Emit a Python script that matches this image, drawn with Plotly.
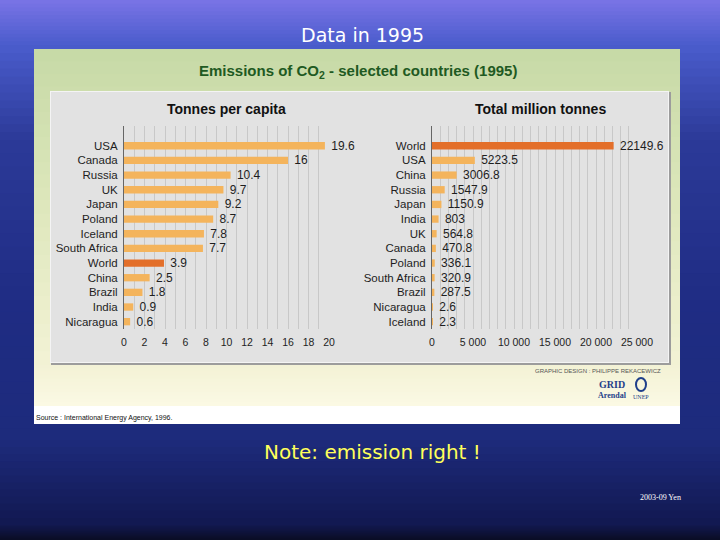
import plotly.graph_objects as go
from plotly.subplots import make_subplots

# data
per_capita_countries = ["USA", "Canada", "Russia", "UK", "Japan", "Poland", "Iceland",
                        "South Africa", "World", "China", "Brazil", "India", "Nicaragua"]
per_capita = [19.6, 16, 10.4, 9.7, 9.2, 8.7, 7.8, 7.7, 3.9, 2.5, 1.8, 0.9, 0.6]

total_countries = ["World", "USA", "China", "Russia", "Japan", "India", "UK", "Canada",
                   "Poland", "South Africa", "Brazil", "Nicaragua", "Iceland"]
total_mt = [22149.6, 5223.5, 3006.8, 1547.9, 1150.9, 803, 564.8, 470.8,
            336.1, 320.9, 287.5, 2.6, 2.3]

total_tickvals = [0, 5000, 10000, 15000, 20000, 25000]
total_ticktext = ["0", "5 000", "10 000", "15 000", "20 000", "25 000"]

W, H = 720, 540
BAR = "#f4b45c"
BAR_WORLD = "#e36f2a"
NARROW = "Liberation Sans Narrow, Arial Narrow, Liberation Sans, Arial, sans-serif"


def px(x):
    return x / W


def py(y):
    return 1 - y / H


def hex2rgb(h):
    h = h.lstrip("#")
    return [int(h[i:i + 2], 16) for i in (0, 2, 4)]


def mix(c0, c1, t):
    a, b = hex2rgb(c0), hex2rgb(c1)
    return "rgb(%d,%d,%d)" % tuple(round(a[i] + (b[i] - a[i]) * t) for i in range(3))


shapes = []


def gradient(x0, x1, stops, n=12):
    # stops: list of (y_pixel, colour); thin overlapping bands between stops
    for (ya, ca), (yb, cb) in zip(stops[:-1], stops[1:]):
        step = (yb - ya) / n
        for i in range(n):
            y_top = ya + i * step
            y_bot = min(ya + (i + 1) * step + 2, stops[-1][0])
            shapes.append(dict(type="rect", xref="paper", yref="paper", layer="below",
                               x0=px(x0), x1=px(x1), y0=py(y_bot), y1=py(y_top),
                               fillcolor=mix(ca, cb, (i + 0.5) / n), line_width=0))


# slide background
gradient(0, W, [(0, "#7a74e6"), (45, "#4a5ccc"), (140, "#2c3a98"), (300, "#1f2c84"),
                (440, "#1d2b7c"), (525, "#121850"), (540, "#0a0d24")])

# chart panel (green to cream) with white source strip
gradient(34, 680, [(49, "#c6d9a6"), (200, "#dde7bb"), (365, "#f3f2d5"), (406, "#fbf9e4")])
shapes.append(dict(type="rect", xref="paper", yref="paper", layer="below",
                   x0=px(34), x1=px(680), y0=py(424), y1=py(406), fillcolor="white", line_width=0))

# grey inner box with shadow
shapes.append(dict(type="rect", xref="paper", yref="paper", layer="below",
                   x0=px(51), x1=px(671), y0=py(365), y1=py(92), fillcolor="#9c9c9c", line_width=0))
shapes.append(dict(type="rect", xref="paper", yref="paper", layer="below",
                   x0=px(50), x1=px(669), y0=py(363), y1=py(91), fillcolor="#f4f4f4", line_width=0))
shapes.append(dict(type="rect", xref="paper", yref="paper", layer="below",
                   x0=px(51), x1=px(668), y0=py(362), y1=py(92), fillcolor="#e2e2e2", line_width=0))

# UNEP logo circle
shapes.append(dict(type="circle", xref="paper", yref="paper",
                   x0=px(636), x1=px(646), y0=py(391), y1=py(378),
                   line=dict(color="#1f3f8a", width=2), fillcolor="rgba(0,0,0,0)"))

fig = make_subplots(rows=1, cols=2)

# non-breaking space keeps a small gap between bar end and value
fig.add_trace(go.Bar(
    x=per_capita, y=per_capita_countries, orientation="h",
    marker=dict(color=[BAR_WORLD if c == "World" else BAR for c in per_capita_countries], line_width=0),
    width=0.5,
    text=["\u00a0" + f"{v:g}" for v in per_capita], textposition="outside", cliponaxis=False,
    constraintext="none",
    textfont=dict(family=NARROW, size=12, color="#1e1e1e"),
    showlegend=False,
), row=1, col=1)

fig.add_trace(go.Bar(
    x=total_mt, y=total_countries, orientation="h",
    marker=dict(color=[BAR_WORLD if c == "World" else BAR for c in total_countries], line_width=0),
    width=0.5,
    text=["\u00a0" + f"{v:g}" for v in total_mt], textposition="outside", cliponaxis=False,
    constraintext="none",
    textfont=dict(family=NARROW, size=12, color="#1e1e1e"),
    showlegend=False,
), row=1, col=2)

ydom = [py(329), py(126)]
axis_font = dict(family=NARROW, size=11.5, color="#1e1e1e")
tick_font = dict(family=NARROW, size=10.5, color="#1e1e1e")

fig.update_layout(
    xaxis=dict(domain=[px(124), px(329)], range=[0, 20], dtick=2, showgrid=True,
               gridcolor="#c8c8c8", gridwidth=1, zeroline=False, showline=False,
               tickfont=tick_font, ticks="", ticklabelstandoff=5, automargin=False),
    yaxis=dict(domain=ydom, range=[12.5, -1.35], showgrid=False, showline=True, automargin=False,
               linecolor="#666666", linewidth=1, ticks="", tickfont=axis_font, ticklabelstandoff=3),
    xaxis2=dict(domain=[px(432), px(637)], range=[0, 25000], showgrid=True,
                tickvals=total_tickvals, ticktext=total_ticktext, ticklabelstandoff=5, automargin=False,
                gridcolor="#c8c8c8", zeroline=False, showline=False, tickfont=tick_font, ticks=""),
    yaxis2=dict(domain=ydom, range=[12.5, -1.35], showgrid=False, showline=True, automargin=False,
                linecolor="#666666", linewidth=1, ticks="", tickfont=axis_font, ticklabelstandoff=3),
    width=W, height=H,
    margin=dict(l=0, r=0, t=0, b=0, pad=0, autoexpand=False),
    paper_bgcolor="#1d2a7c",
    plot_bgcolor="rgba(0,0,0,0)",
    shapes=shapes,
)

# minor gridlines every 1 unit / every 1000
fig.update_xaxes(minor=dict(dtick=1, showgrid=True, gridcolor="#c8c8c8", gridwidth=1), row=1, col=1)
fig.update_xaxes(minor=dict(dtick=1000, showgrid=True, gridcolor="#c8c8c8", gridwidth=1), row=1, col=2)

annotations = [
    dict(text="Data in 1995", x=px(362), y=py(35), font=dict(family="DejaVu Sans", size=19, color="white")),
    dict(text="<b>Emissions of CO<sub>2</sub> - selected countries (1995)</b>", x=px(358), y=py(71),
         font=dict(family=NARROW, size=15, color="#1f5a22")),
    dict(text="<b>Tonnes per capita</b>", x=px(226), y=py(109),
         font=dict(family="Liberation Sans, Arial", size=14, color="#111111")),
    dict(text="<b>Total million tonnes</b>", x=px(540), y=py(109),
         font=dict(family="Liberation Sans, Arial", size=14, color="#111111")),
    dict(text="GRAPHIC DESIGN : PHILIPPE REKACEWICZ", x=px(663), y=py(371), xanchor="right",
         font=dict(family=NARROW, size=6, color="#555555")),
    dict(text="<b>GRID</b>", x=px(612), y=py(385),
         font=dict(family="Liberation Serif, serif", size=10, color="#1f3f8a")),
    dict(text="<b>Arendal</b>", x=px(612), y=py(395),
         font=dict(family="Liberation Serif, serif", size=8, color="#1f3f8a")),
    dict(text="UNEP", x=px(641), y=py(397),
         font=dict(family="Liberation Serif, serif", size=6, color="#1f3f8a")),
    dict(text="Source : International Energy Agency, 1996.", x=px(34), y=py(418), xanchor="left",
         font=dict(family=NARROW, size=7, color="#111111")),
    dict(text="Note: emission right !", x=px(372), y=py(452),
         font=dict(family="DejaVu Sans", size=20, color="#ffff5a")),
    dict(text="2003-09 Yen", x=px(660), y=py(497),
         font=dict(family="Liberation Serif, serif", size=8, color="white")),
]
for a in annotations:
    a.update(xref="paper", yref="paper", showarrow=False)
    a.setdefault("xanchor", "center")
    a.setdefault("yanchor", "middle")
fig.update_layout(annotations=annotations)

# drop the default page margin so the 720x540 figure fills the window
fig.write_html("out.html", config={"displayModeBar": False},
               post_script="document.body.style.margin='0';")
